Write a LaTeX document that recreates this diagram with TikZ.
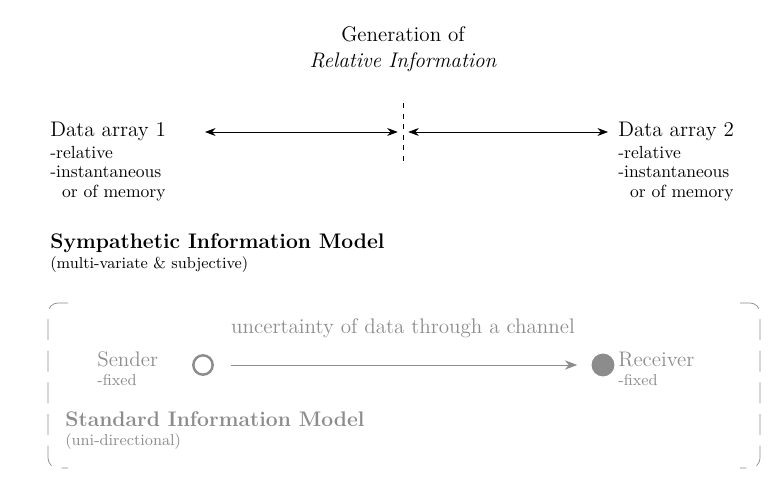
\documentclass[tikz,border=0pt]{standalone}
\usepackage{tikz}
\usetikzlibrary{positioning,arrows.meta}
\definecolor{softgray}{RGB}{140,140,140}

\begin{document}
\begin{tikzpicture}[x=0.02cm,y=-0.02cm,
    title/.style={font=\large, anchor=base west, inner sep=0pt},
    sub/.style={font=\normalsize, anchor=base west, inner sep=0pt, align=left},
    subblock/.style={anchor=north west, inner sep=0pt, align=left, font={\normalsize\setlength{\baselineskip}{11pt}}},
    link/.style={{Stealth[length=6pt]}-{Stealth[length=6pt]}, thin},
    grayarrow/.style={-{Stealth[length=7pt]}, softgray, thin},
    bracket/.style={dashed, softgray, thin, dash pattern=on 12pt off 6pt}
]
    \useasboundingbox (0,0) rectangle (784,499);

    % heading
    \node[font=\large, anchor=base] (gen) at (403,42) {Generation of};
    \node[font=\large\itshape, anchor=base] (rel) at (403,68) {Relative Information};

    % data arrays
    \node[title] (d1) at (50,137) {Data array 1};
    \node[subblock] (d1s) at (50,146) {-relative\\-instantaneous\\\ \ or of memory};
    \node[title] (d2) at (618,137) {Data array 2};
    \node[subblock] (d2s) at (618,146) {-relative\\-instantaneous\\\ \ or of memory};

    \coordinate (mid) at (403,132);
    \coordinate (a1) at (205,132);
    \coordinate (a2) at (608,132);
    \draw[link] (a1) -- ([xshift=-3]mid);
    \draw[link] ([xshift=3]mid) -- (a2);
    \draw[dashed, thin] (403,103) -- (403,163);

    % sympathetic model
    \node[title, font=\large\bfseries] (sym) at (50,249) {Sympathetic Information Model};
    \node[sub, font=\small] (symsub) at (50,269) {(multi-variate \& subjective)};

    % standard model frame
    \draw[bracket] (68,303) -- (58,303) to[out=180,in=90] (48,313) -- (48,458) to[out=-90,in=180] (58,468) -- (68,468);
    \draw[bracket] (740,303) -- (750,303) to[out=0,in=90] (760,313) -- (760,458) to[out=-90,in=0] (750,468) -- (740,468);

    \node[font=\large, text=softgray, anchor=base] (unc) at (403,334) {uncertainty of data through a channel};

    \node[title, text=softgray] (snd) at (97,367) {Sender};
    \node[sub, font=\small, text=softgray] (sndf) at (97,386) {-fixed};
    \node[circle, draw=softgray, line width=1.4pt, minimum size=11pt, inner sep=0pt] (src) at (203,365) {};
    \node[circle, fill=softgray, minimum size=13pt, inner sep=0pt] (dst) at (603,365) {};
    \draw[grayarrow] ([xshift=10]src.east) -- ([xshift=-8]dst.west);
    \node[title, text=softgray] (rcv) at (618,367) {Receiver};
    \node[sub, font=\small, text=softgray] (rcvf) at (618,386) {-fixed};

    \node[title, font=\large\bfseries, text=softgray] (std) at (65,427) {Standard Information Model};
    \node[sub, font=\small, text=softgray] (stdsub) at (65,446) {(uni-directional)};
\end{tikzpicture}
\end{document}
